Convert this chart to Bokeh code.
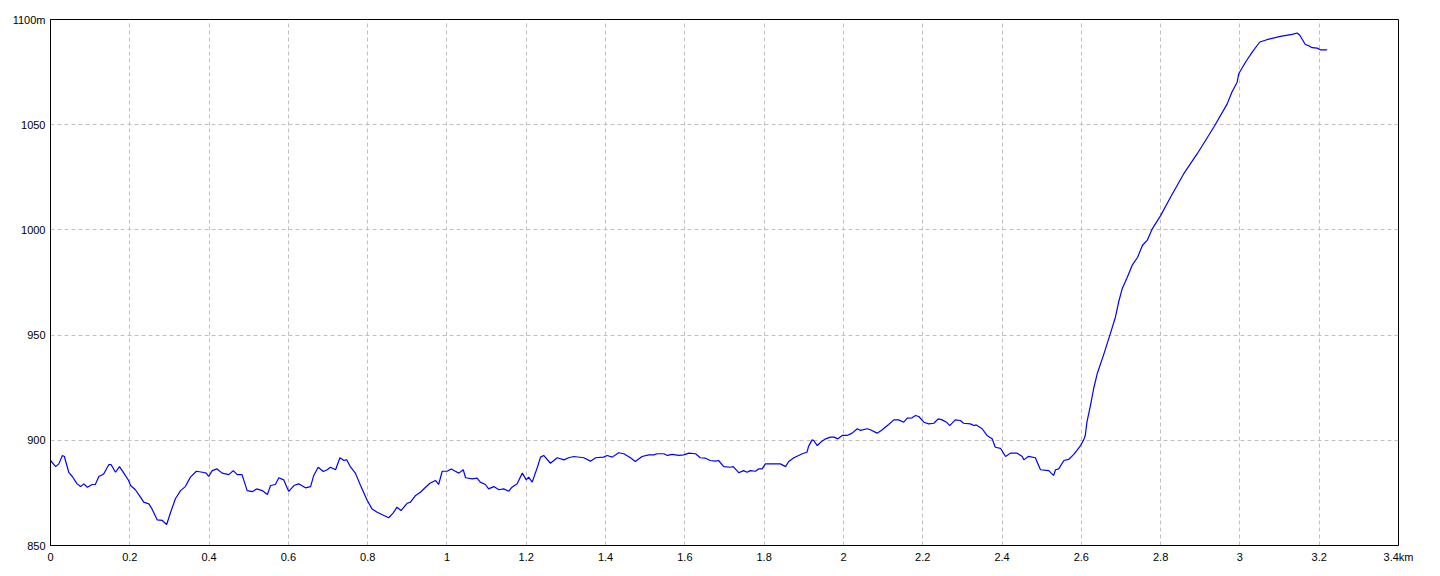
from bokeh.plotting import figure
from bokeh.models import Range1d, FixedTicker
from bokeh.embed import file_html
from bokeh.resources import INLINE

# distance (km) and elevation (m)
dist_km = [
    0.000, 0.013, 0.021, 0.030, 0.035, 0.046, 0.055, 0.067, 0.076, 0.084,
    0.093, 0.105, 0.113, 0.122, 0.134, 0.147, 0.153, 0.164, 0.174, 0.185,
    0.197, 0.202, 0.214, 0.227, 0.235, 0.248, 0.256, 0.269, 0.282, 0.293,
    0.303, 0.315, 0.328, 0.340, 0.353, 0.368, 0.383, 0.393, 0.399, 0.408,
    0.420, 0.433, 0.450, 0.461, 0.471, 0.483, 0.496, 0.509, 0.520, 0.534,
    0.547, 0.555, 0.567, 0.576, 0.588, 0.601, 0.614, 0.626, 0.643, 0.656,
    0.664, 0.675, 0.688, 0.698, 0.706, 0.719, 0.730, 0.740, 0.747, 0.757,
    0.769, 0.782, 0.799, 0.811, 0.824, 0.837, 0.853, 0.864, 0.874, 0.884,
    0.900, 0.908, 0.921, 0.933, 0.946, 0.957, 0.971, 0.979, 0.988, 1.000,
    1.011, 1.021, 1.030, 1.041, 1.047, 1.064, 1.076, 1.084, 1.097, 1.105,
    1.118, 1.131, 1.143, 1.156, 1.164, 1.177, 1.190, 1.200, 1.206, 1.215,
    1.228, 1.236, 1.244, 1.261, 1.278, 1.295, 1.307, 1.320, 1.345, 1.362,
    1.375, 1.395, 1.404, 1.417, 1.433, 1.446, 1.463, 1.475, 1.492, 1.509,
    1.522, 1.530, 1.547, 1.556, 1.568, 1.585, 1.597, 1.610, 1.627, 1.639,
    1.652, 1.664, 1.677, 1.685, 1.698, 1.715, 1.722, 1.736, 1.748, 1.757,
    1.765, 1.778, 1.786, 1.795, 1.803, 1.841, 1.854, 1.862, 1.875, 1.887,
    1.896, 1.908, 1.912, 1.921, 1.925, 1.934, 1.946, 1.955, 1.967, 1.976,
    1.986, 1.997, 2.009, 2.022, 2.035, 2.043, 2.060, 2.068, 2.085, 2.098,
    2.114, 2.127, 2.139, 2.152, 2.161, 2.173, 2.182, 2.190, 2.203, 2.215,
    2.228, 2.239, 2.249, 2.260, 2.268, 2.282, 2.295, 2.303, 2.320, 2.329,
    2.335, 2.350, 2.362, 2.375, 2.383, 2.396, 2.409, 2.421, 2.438, 2.451,
    2.455, 2.467, 2.484, 2.497, 2.518, 2.524, 2.530, 2.535, 2.543, 2.556,
    2.568, 2.581, 2.589, 2.598, 2.606, 2.610, 2.614, 2.623, 2.631, 2.640,
    2.657, 2.673, 2.686, 2.694, 2.703, 2.716, 2.728, 2.742, 2.754, 2.766,
    2.779, 2.800, 2.825, 2.858, 2.892, 2.934, 2.968, 2.980, 2.993, 2.997,
    3.014, 3.031, 3.050, 3.068, 3.102, 3.132, 3.144, 3.151, 3.165, 3.173,
    3.182, 3.195, 3.203, 3.220,
]
elev_m = [
    890.4, 887.5, 888.8, 892.8, 892.3, 884.8, 882.8, 879.3, 878.0, 879.3,
    877.7, 879.0, 879.0, 882.8, 884.0, 888.4, 888.4, 884.8, 887.5, 884.4,
    880.9, 878.5, 876.5, 873.0, 870.6, 869.8, 867.4, 862.2, 861.9, 860.0,
    865.8, 872.2, 876.1, 878.0, 882.5, 885.3, 884.8, 884.4, 882.8, 885.6,
    886.4, 884.4, 883.7, 885.6, 883.7, 883.7, 876.1, 875.6, 876.9, 876.1,
    874.2, 878.5, 879.0, 882.2, 881.2, 875.7, 878.5, 879.3, 877.4, 878.0,
    883.3, 887.2, 885.2, 886.0, 887.2, 886.0, 891.7, 890.4, 890.8, 887.2,
    884.4, 878.5, 871.4, 867.4, 865.8, 864.6, 863.2, 865.4, 868.2, 866.6,
    870.1, 870.6, 873.8, 875.3, 877.7, 879.6, 880.9, 879.0, 885.3, 885.3,
    886.4, 885.3, 884.4, 886.0, 882.2, 881.7, 882.0, 880.1, 879.0, 876.9,
    878.0, 876.5, 876.9, 875.8, 877.7, 879.3, 884.4, 881.2, 882.5, 880.1,
    887.2, 892.0, 892.8, 889.1, 891.7, 890.7, 891.7, 892.3, 891.7, 890.1,
    891.7, 892.0, 892.8, 892.0, 894.1, 893.6, 891.7, 889.9, 892.3, 893.1,
    893.1, 893.6, 893.6, 892.8, 893.3, 892.8, 893.1, 893.9, 893.6, 891.7,
    891.5, 890.4, 890.1, 890.4, 887.5, 887.2, 887.5, 884.6, 885.6, 884.8,
    885.6, 885.3, 886.4, 886.4, 888.8, 888.8, 887.5, 889.9, 891.7, 892.8,
    893.6, 894.3, 897.1, 900.2, 899.9, 897.5, 899.6, 900.7, 901.5, 901.5,
    900.7, 902.3, 902.3, 903.4, 905.5, 904.7, 905.5, 905.0, 903.4, 905.0,
    907.5, 909.7, 909.7, 908.6, 910.5, 910.7, 911.8, 911.3, 908.6, 907.8,
    908.1, 910.2, 909.7, 908.6, 907.0, 909.7, 909.4, 908.1, 907.8, 907.0,
    907.3, 905.5, 902.3, 900.7, 896.7, 896.2, 892.3, 893.9, 893.9, 892.3,
    890.7, 892.4, 891.7, 886.0, 885.6, 884.4, 883.3, 886.0, 886.4, 890.4,
    890.9, 893.3, 895.2, 897.5, 900.2, 902.3, 908.5, 916.5, 924.5, 931.6,
    941.1, 950.6, 958.5, 965.6, 972.0, 977.5, 983.1, 987.0, 992.6, 995.0,
    1000.5, 1006.8, 1015.5, 1026.6, 1036.1, 1048.8, 1059.9, 1065.5, 1070.2, 1074.2,
    1079.7, 1084.5, 1089.3, 1090.4, 1092.0, 1092.9, 1093.6, 1092.5, 1088.1, 1087.6,
    1086.6, 1086.4, 1085.6, 1085.6,
]

x_ticks = [0, 0.2, 0.4, 0.6, 0.8, 1, 1.2, 1.4, 1.6, 1.8, 2, 2.2, 2.4, 2.6, 2.8, 3, 3.2, 3.4]
x_tick_labels = ["0", "0.2", "0.4", "0.6", "0.8", "1", "1.2", "1.4", "1.6", "1.8",
                 "2", "2.2", "2.4", "2.6", "2.8", "3", "3.2", "3.4km"]
y_ticks = [850, 900, 950, 1000, 1050, 1100]
y_tick_labels = ["850", "900", "950", "1000", "1050", "1100m"]

FONT = "Liberation Sans"

p = figure(width=1432, height=568, output_backend="svg", toolbar_location=None,
           x_range=Range1d(0, 3.4), y_range=Range1d(850, 1100),
           min_border_left=50, min_border_right=34, min_border_top=19, min_border_bottom=23)
p.background_fill_color = "white"
p.border_fill_color = "white"
p.outline_line_color = "black"
p.outline_line_width = 1

p.line(dist_km, elev_m, line_color="#0000ff", line_width=1.2)

for ax in (p.xaxis[0], p.yaxis[0]):
    ax.major_tick_out = 0
    ax.major_tick_in = 0
    ax.minor_tick_out = 0
    ax.minor_tick_in = 0
    ax.axis_line_color = "black"
    ax.axis_line_width = 1
    ax.major_label_text_font = FONT
    ax.major_label_text_font_size = "11px"
    ax.major_label_text_color = "black"
    ax.major_label_standoff = 5

p.xaxis[0].ticker = FixedTicker(ticks=x_ticks)
p.yaxis[0].ticker = FixedTicker(ticks=y_ticks)
p.xaxis[0].major_label_overrides = dict(zip(x_ticks, x_tick_labels))
p.yaxis[0].major_label_overrides = dict(zip(y_ticks, y_tick_labels))

for g in (p.xgrid[0], p.ygrid[0]):
    g.grid_line_color = "#c0c0c0"
    g.grid_line_dash = "4 3"
    g.grid_line_width = 1

open("out.html", "w").write(file_html(p, INLINE))
